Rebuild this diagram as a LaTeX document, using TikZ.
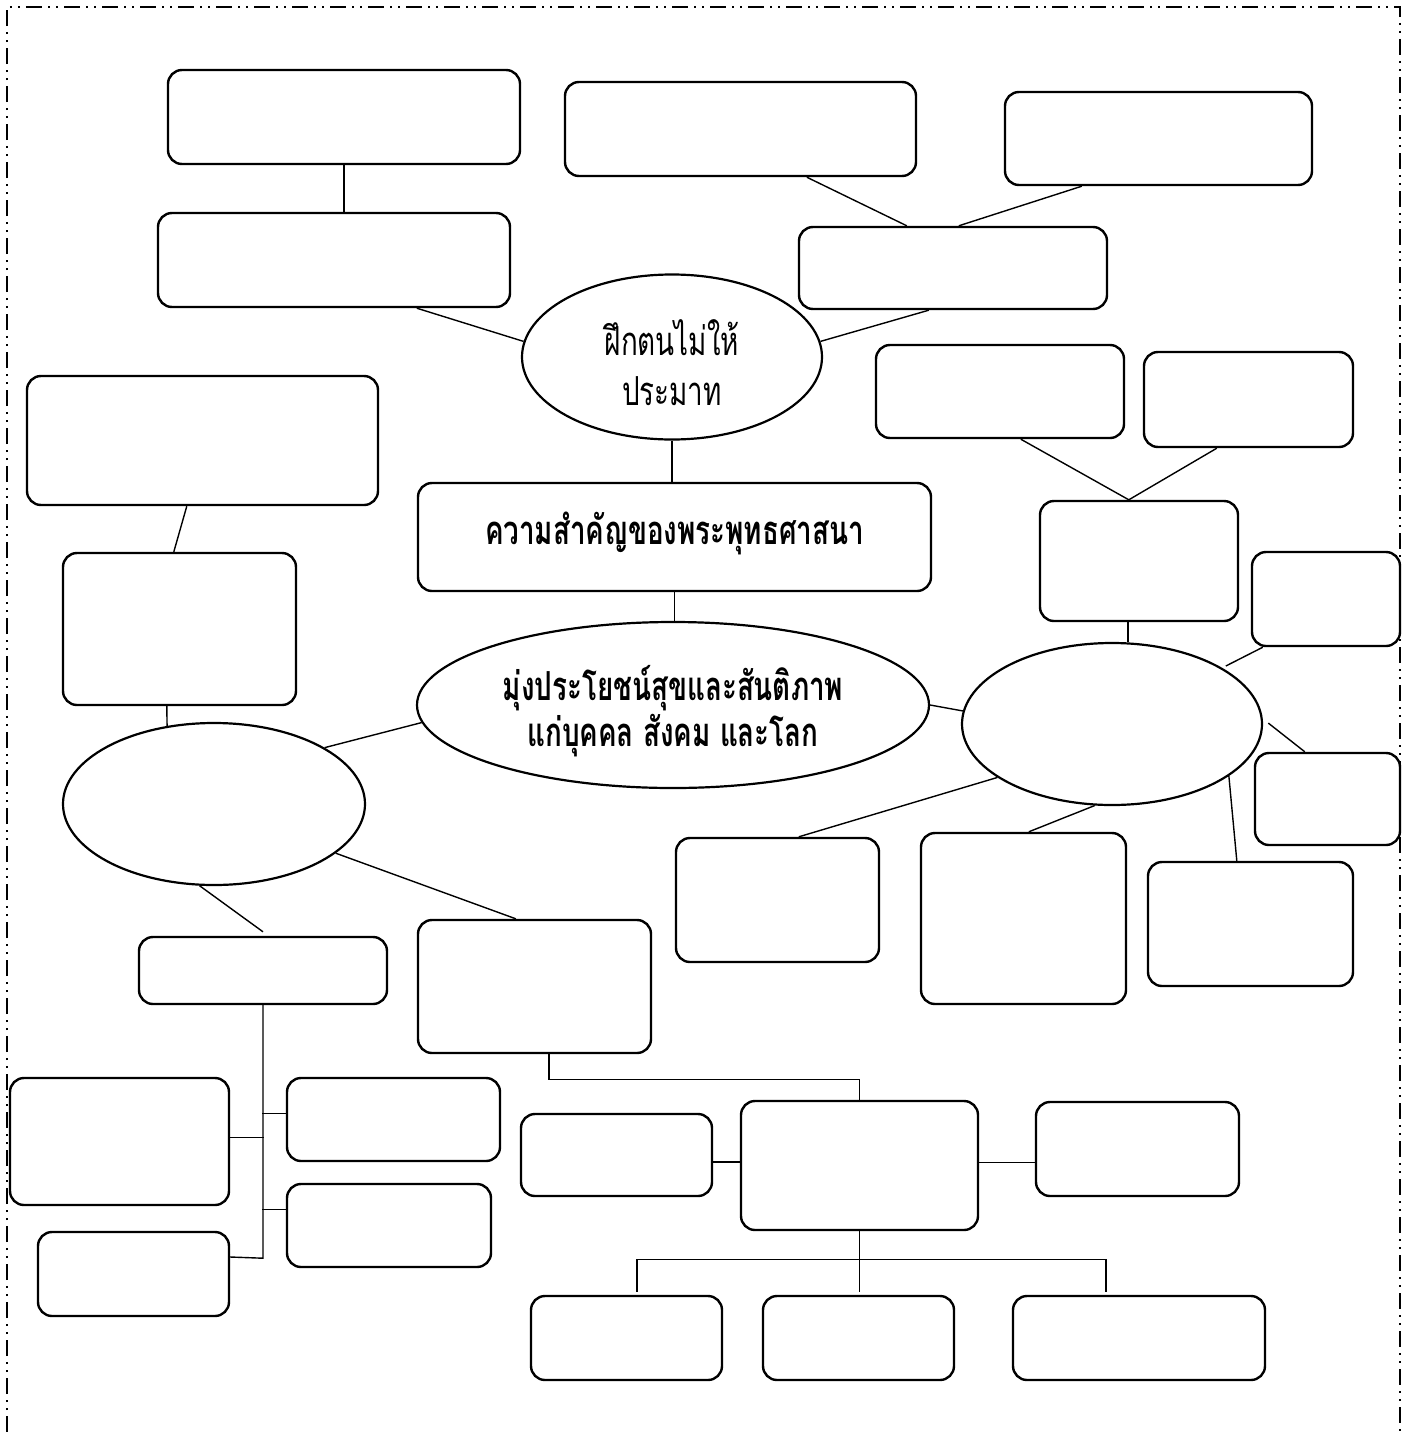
\documentclass[tikz,border=0pt]{standalone}
\usepackage{fontspec}
\newfontfamily\thai[Script=Thai,FakeStretch=0.695]{Loma}
\usetikzlibrary{shapes.geometric}
\tikzset{
  bx/.style={draw, line width=2.4pt, rounded corners=14pt, fill=white, inner sep=0pt},
  ov/.style={draw, ellipse, line width=2.2pt, fill=white, inner sep=0pt},
  ln/.style={line width=1.4pt},
  frame/.style={line width=1.4pt, dash pattern=on 16pt off 6pt on 2pt off 6pt on 2pt off 6pt},
  thtext/.style={font=\thai\fontsize{40}{50}\selectfont}
}
\newcommand\mkbox[5]{\node[bx, minimum width={(#4)-(#2)}, minimum height={(#5)-(#3)}] (#1) at ({((#2)+(#4))/2},{((#3)+(#5))/2}) {};}
\begin{document}
\begin{tikzpicture}[x=1pt,y=-1pt]
\useasboundingbox (0,0) rectangle (1412,1432);
\fill[white] (0,0) rectangle (1412,1432);
\draw[frame] (7,1432) -- (7,7) -- (1400,7) -- (1400,1432);

% boxes
\mkbox{b1}{168}{70}{520}{164}
\mkbox{b2}{158}{213}{510}{307}
\mkbox{b3}{565}{82}{916}{176}
\mkbox{b4}{1005}{92}{1312}{185}
\mkbox{b5}{799}{227}{1107}{309}
\mkbox{b6}{27}{376}{378}{505}
\mkbox{b7}{63}{553}{296}{705}
\mkbox{b8}{876}{345}{1124}{438}
\mkbox{b9}{1144}{352}{1353}{447}
\mkbox{b10}{1040}{501}{1238}{621}
\mkbox{b11}{1252}{552}{1400}{646}
\mkbox{b12}{1255}{753}{1400}{845}
\mkbox{b13}{676}{838}{879}{962}
\mkbox{b14}{921}{833}{1126}{1004}
\mkbox{b15}{1148}{862}{1353}{986}
\mkbox{b16}{139}{937}{387}{1004}
\mkbox{b17}{418}{920}{651}{1053}
\mkbox{b18}{10}{1078}{229}{1205}
\mkbox{b19}{287}{1078}{500}{1161}
\mkbox{b20}{287}{1184}{491}{1267}
\mkbox{b21}{38}{1232}{229}{1316}
\mkbox{b22}{741}{1101}{978}{1230}
\mkbox{b23}{521}{1114}{712}{1196}
\mkbox{b24}{1036}{1102}{1239}{1196}
\mkbox{b25}{531}{1296}{722}{1380}
\mkbox{b26}{763}{1296}{954}{1380}
\mkbox{b27}{1013}{1296}{1265}{1380}

% main box with title
\node[bx, minimum width=513pt, minimum height=108pt, thtext] (main) at (674.5,537)
  {\raisebox{-7pt}[0pt][0pt]{\bfseries ความสำคัญของพระพุทธศาสนา}};

% ellipses
\node[ov, minimum width=300pt, minimum height=165pt, thtext] (e1) at (672,357)
  {\raisebox{-19.5pt}[0pt][0pt]{\begin{tabular}{@{}c@{}}ฝึกตนไม่ให้\\ประมาท\end{tabular}}};
\node[ov, minimum width=512pt, minimum height=166pt, thtext] (e2) at (673,705)
  {\raisebox{-15pt}[0pt][0pt]{\bfseries\begin{tabular}{@{}c@{}}มุ่งประโยชน์สุขและสันติภาพ\\[-4pt]แก่บุคคล สังคม และโลก\end{tabular}}};
\node[ov, minimum width=302pt, minimum height=162pt] (e3) at (214,804) {};
\node[ov, minimum width=300pt, minimum height=162pt] (e4) at (1112,724) {};

% connectors
\draw[ln] (b1.south) -- (b1.south |- b2.north);
\draw[ln] ([xshift=243pt]b3.south west) -- ([xshift=109pt]b5.north west);
\draw[ln] ([xshift=78pt]b4.south west) -- ([xshift=161pt]b5.north west);
\draw[ln] ([xshift=260pt]b2.south west) -- (e1.174);
\draw[ln] ([xshift=131pt]b5.south west) -- (e1.6);
\draw[ln] (e1.south) -- (e1.south |- main.north);
\draw[ln] (main.south) -- (main.south |- e2.north);
\draw[ln] ([xshift=161pt]b6.south west) -- ([xshift=112pt]b7.north west);
\draw[ln] ([xshift=105pt]b7.south west) -- (e3.121);
\draw[ln] (e2.184) -- (e3.27);
\draw[ln] (e2.east) -- (e4.175);
\draw[ln] ([xshift=146pt]b8.south west) -- ([xshift=90pt]b10.north west);
\draw[ln] ([xshift=74pt]b9.south west) -- ([xshift=90pt]b10.north west);
\draw[ln] ([xshift=89pt]b10.south west) -- ([xshift=89pt]b10.south west |- e4.north);
\draw[ln, shorten <=4pt] (e4.27) -- ([xshift=12pt]b11.south west);
\draw[ln, shorten <=7pt] (e4.2) -- ([xshift=51pt]b12.north west);
\draw[ln] (e4.205) -- ([xshift=124pt]b13.north west);
\draw[ln] (e4.258) -- ([xshift=109pt]b14.north west);
\draw[ln] (e4.336) -- ([xshift=90pt]b15.north west);
\draw[ln] (e3.260) -- ([yshift=4pt]b16.north);
\draw[ln] (e3.338) -- ([xshift=99pt]b17.north west);

% left tree
\path (b16.south) ++(0,253) coordinate (tb);
\draw[ln] (b16.south) -- (tb) -- ([yshift=17pt]b21.east);
\draw[ln] ([yshift=4pt]b18.east) -- ++(34,0);
\draw[ln] ([yshift=6pt]b19.west) -- ++(-24,0);
\draw[ln] ([yshift=16pt]b20.west) -- ++(-24,0);

% lower tree
\draw[ln] ([xshift=132pt]b17.south west) -- ++(0,25) -| (b22.north);
\draw[ln] ([yshift=-7pt]b23.east) -- ([yshift=-7pt]b23.east -| b22.west);
\draw[ln] ([yshift=3pt]b22.east) -- ([yshift=3pt]b22.east -| b24.west);
\path (b22.south) ++(0,28) coordinate (bt);
\draw[ln, shorten >=3pt] (b22.south) -- (b22.south |- b26.north);
\draw[ln] ([xshift=107pt,yshift=3pt]b25.north west) |- (bt) -| ([xshift=94pt,yshift=3pt]b27.north west);
\end{tikzpicture}
\end{document}
